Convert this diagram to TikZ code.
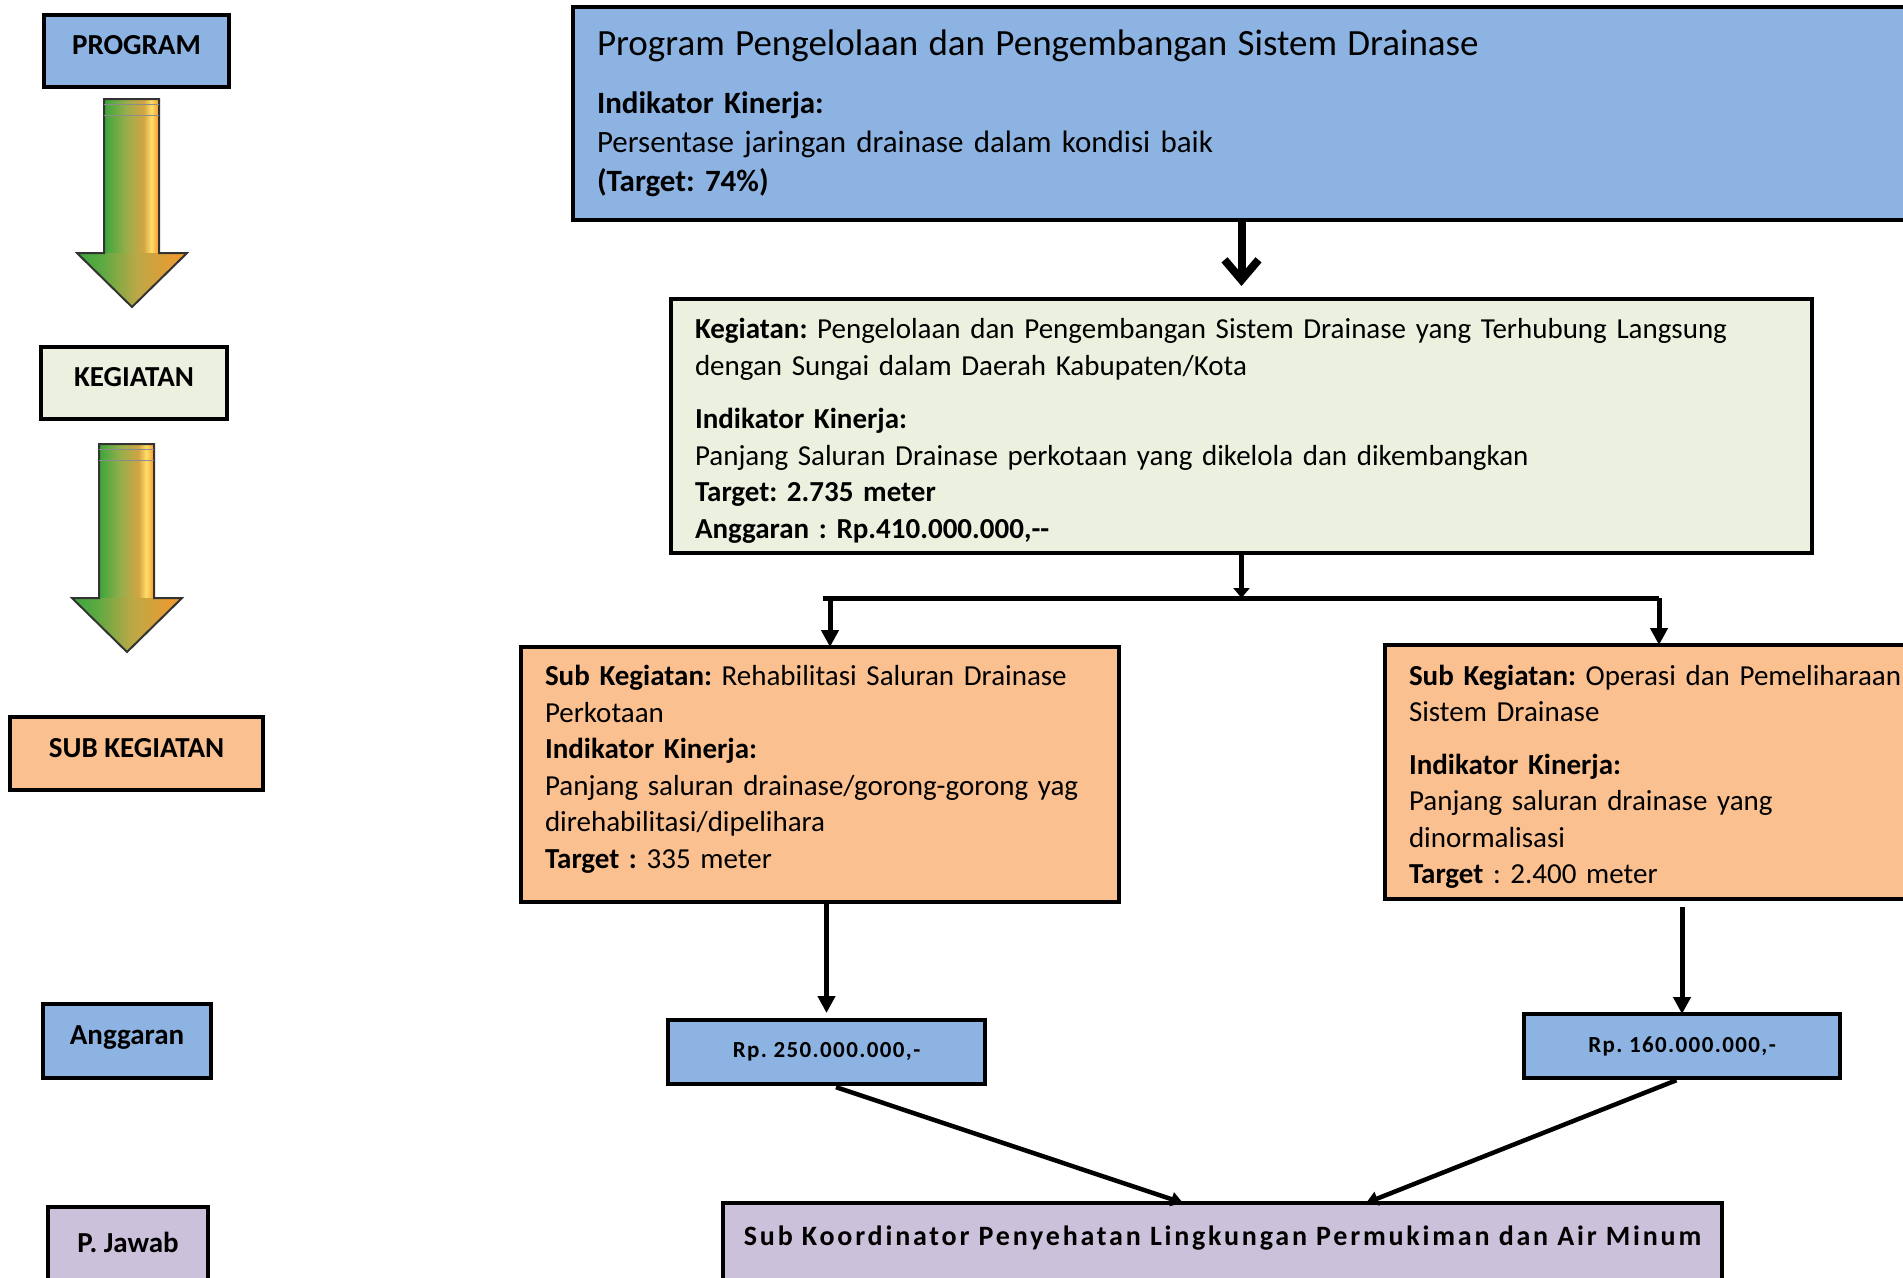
\documentclass[tikz,border=0pt]{standalone}
\usepackage{fontspec}
\setmainfont{Carlito}
\newfontfamily\renggang[LetterSpace=10]{Carlito}
\newfontfamily\renggangkecil[LetterSpace=6]{Carlito}
\usepackage{xcolor}
\usetikzlibrary{positioning,arrows.meta}

\definecolor{biru}{HTML}{8DB3E2}
\definecolor{hijaumuda}{HTML}{EBF1DE}
\definecolor{oranye}{HTML}{FAC090}
\definecolor{ungu}{HTML}{CCC1DA}
\definecolor{hijauA}{HTML}{3AA63C}
\definecolor{zaitun}{HTML}{98AE4C}
\definecolor{emas}{HTML}{D3A443}
\definecolor{kuningA}{HTML}{FFDE68}
\definecolor{oranyeA}{HTML}{F7982A}

% bagian tengah (25bp--75bp) yang mengisi bentuk
\pgfdeclarehorizontalshading{batang}{100bp}{color(0bp)=(hijauA); color(25bp)=(hijauA); color(45bp)=(zaitun); color(61bp)=(emas); color(68bp)=(kuningA); color(75bp)=(oranyeA); color(100bp)=(oranyeA)}
\pgfdeclarehorizontalshading{kepala}{100bp}{color(0bp)=(hijauA); color(25bp)=(hijauA); color(37bp)=(hijauA!60!zaitun); color(52bp)=(zaitun!40!emas); color(75bp)=(oranyeA); color(100bp)=(oranyeA)}

\frenchspacing
\begin{document}
\begin{tikzpicture}[x=1pt,y=-1pt, line join=miter]
				% ===== bidang gambar =====
				\fill[white] (0,0) rectangle (1903,1277);
				\useasboundingbox (0,0) rectangle (1903,1277);
				
				% ===== style kotak =====
				\tikzset{tingkat/.style={draw, line width=4pt, inner sep=0pt, outer sep=0pt, text depth=12pt, font=\bfseries\fontsize{29pt}{35pt}\selectfont},
					isi/.style={draw, line width=4pt, anchor=north west, inner xsep=24pt, inner ysep=0pt, outer sep=0pt, align=left, font=\fontsize{29pt}{36.5pt}\selectfont},
					dana/.style={draw, line width=4pt, fill=biru, inner sep=0pt, outer sep=0pt, minimum width=317pt, minimum height=64pt, font=\renggangkecil\bfseries\fontsize{23pt}{27pt}\selectfont},
					garis/.style={line width=5pt},
					panah/.style={line width=5pt, -{Triangle[length=17pt,width=17pt]}},
					miring/.style={line width=4.5pt, -{Triangle[length=12pt,width=14pt]}}}
				
				% ===== kolom kiri =====
				\node[tingkat, fill=biru, minimum width=185pt, minimum height=72pt] (lprogram) at (136.5,51) {PROGRAM};
				\node[tingkat, fill=hijaumuda, minimum width=186pt, minimum height=72pt] (lkegiatan) at (134,383) {KEGIATAN};
				\node[tingkat, fill=oranye, minimum width=253pt, minimum height=73pt] (lsub) at (136.5,753.5) {SUB KEGIATAN};
				\node[tingkat, fill=biru, minimum width=168pt, minimum height=74pt] (langgaran) at (127,1041) {Anggaran};
				\node[tingkat, fill=ungu, minimum width=160pt, minimum height=83pt] (ljawab) at (128,1248.5) {P. Jawab};
				
				% ===== panah gradasi =====
				\foreach \kx/\ky in {104/99, 99/444}{
					\shade[shading=batang] (\kx,\ky) rectangle ++(55,154);
					\shade[shading=kepala] (\kx-27,\ky+154) -- (\kx+83,\ky+154) -- (\kx+28,\ky+208) -- cycle;
					\draw[line width=2pt, black!80] (\kx,\ky) -- ++(55,0) -- ++(0,154) -- ++(28,0) -- (\kx+28,\ky+208) -- (\kx-27,\ky+154) -- ++(27,0) -- cycle;
					\draw[line width=1pt, black!45] (\kx,\ky+5) -- ++(55,0) (\kx,\ky+16) -- ++(55,0);
				}
				
				% ===== kotak utama =====
				\node[isi, fill=biru, text width=1312pt, minimum height=213pt, font=\fontsize{31pt}{39pt}\selectfont] (program) at (573,7) {{\fontsize{37pt}{44pt}\selectfont Program Pengelolaan dan Pengembangan Sistem Drainase}\\[19pt] \textbf{Indikator Kinerja:}\\ Persentase jaringan drainase dalam kondisi baik\\ \textbf{(Target: 74\%)}};
				\node[isi, fill=hijaumuda, text width=1093pt, minimum height=254pt] (kegiatan) at (671,299) {\rule{0pt}{30pt}\textbf{Kegiatan:} Pengelolaan dan Pengembangan Sistem Drainase yang Terhubung Langsung\\ dengan Sungai dalam Daerah Kabupaten/Kota\\[17pt] \textbf{Indikator Kinerja:}\\ Panjang Saluran Drainase perkotaan yang dikelola dan dikembangkan\\ \textbf{Target: 2.735 meter}\\ \textbf{Anggaran : Rp.410.000.000,-{}-}};
				\node[isi, fill=oranye, text width=550pt, minimum height=255pt] (subkiri) at (521,647) {\textbf{Sub Kegiatan:} Rehabilitasi Saluran Drainase\\ Perkotaan\\ \textbf{Indikator Kinerja:}\\ Panjang saluran drainase/gorong-gorong yag\\ direhabilitasi/dipelihara\\ \textbf{Target :} 335 meter\rule[-15pt]{0pt}{1pt}};
				\node[isi, fill=oranye, text width=500pt, minimum height=254pt] (subkanan) at (1385,645) {\rule{0pt}{30pt}\textbf{Sub Kegiatan:} Operasi dan Pemeliharaan\\ Sistem Drainase\\[16pt] \textbf{Indikator Kinerja:}\\ Panjang saluran drainase yang\\ dinormalisasi\\ \textbf{Target} : 2.400 meter};
				
				% ===== anggaran & penanggung jawab =====
				\node[dana] (dana1) at (826.5,1052) {Rp. 250.000.000,-};
				\node[dana, minimum width=316pt] (dana2) at (1682,1046) {Rp. 160.000.000,-};
				\node[draw, line width=4pt, fill=ungu, minimum width=999pt, minimum height=87pt, inner sep=0pt, outer sep=0pt, text height=20pt, text depth=23pt, font=\renggang\bfseries\fontsize{28pt}{34pt}\selectfont] (pjawab) at (1222.5,1246.5) {Sub Koordinator Penyehatan Lingkungan Permukiman dan Air Minum};
				
				% ===== garis penghubung =====
				\coordinate (bkiri) at (823,598);
				\coordinate (tkiri) at (830,598);
				\coordinate (bkanan) at (1659,598);
				\coordinate (pjkiri) at (1183,1203);
				\coordinate (pjkanan) at (1366,1203);
				
				\draw[line width=8pt, -{Straight Barb[length=20pt,width=34pt]}, shorten >=13pt] (program.south -| kegiatan.north) -- (kegiatan.north);
				\draw[garis, -{Triangle[length=10pt,width=16pt]}] (kegiatan.south) -- (kegiatan.south |- bkiri);
				\draw[garis] (bkiri) -- (bkanan);
				\draw[panah] (tkiri) -- (tkiri |- subkiri.north);
				\draw[panah] (bkanan) -- (bkanan |- subkanan.north);
				\draw[panah, shorten >=7pt] (dana1.north |- subkiri.south) -- (dana1.north);
				\draw[panah, shorten <=8pt] (dana2.north |- subkanan.south) -- (dana2.north);
				\draw[miring, shorten <=10pt] (dana1.south) -- (pjkiri);
				\draw[miring, shorten <=6pt] (dana2.south) -- (pjkanan);
			\end{tikzpicture}
\end{document}
